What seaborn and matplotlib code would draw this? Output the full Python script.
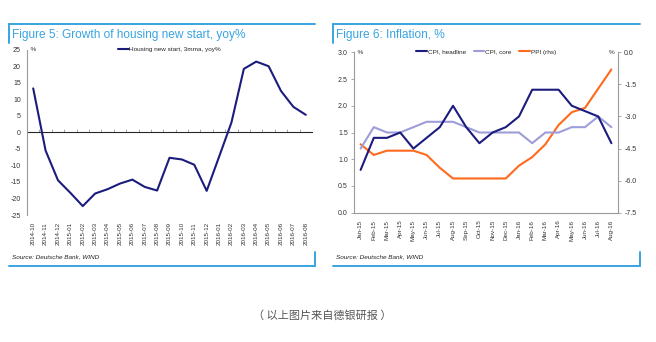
import numpy as np
import pandas as pd
import matplotlib
matplotlib.use("Agg")
import matplotlib.pyplot as plt
from matplotlib.lines import Line2D
import seaborn as sns

# ---- data -------------------------------------------------------------
housing_months = ["2014-10", "2014-11", "2014-12", "2015-01", "2015-02", "2015-03",
                  "2015-04", "2015-05", "2015-06", "2015-07", "2015-08", "2015-09",
                  "2015-10", "2015-11", "2015-12", "2016-01", "2016-02", "2016-03",
                  "2016-04", "2016-05", "2016-06", "2016-07", "2016-08"]
housing_yoy = [13.3, -5.5, -14.5, -18.3, -22.3, -18.5, -17.2, -15.5, -14.3, -16.5,
               -17.6, -7.7, -8.2, -9.8, -17.7, -7.4, 3.0, 19.2, 21.4, 20.0, 12.5,
               7.7, 5.3]

infl_months = ["Jan-15", "Feb-15", "Mar-15", "Apr-15", "May-15", "Jun-15", "Jul-15",
               "Aug-15", "Sep-15", "Oct-15", "Nov-15", "Dec-15", "Jan-16", "Feb-16",
               "Mar-16", "Apr-16", "May-16", "Jun-16", "Jul-16", "Aug-16"]
cpi_headline = [0.8, 1.4, 1.4, 1.5, 1.2, 1.4, 1.6, 2.0, 1.6, 1.3, 1.5, 1.6, 1.8, 2.3,
                2.3, 2.3, 2.0, 1.9, 1.8, 1.3]
cpi_core = [1.2, 1.6, 1.5, 1.5, 1.6, 1.7, 1.7, 1.7, 1.6, 1.5, 1.5, 1.5, 1.5, 1.3,
            1.5, 1.5, 1.6, 1.6, 1.8, 1.6]
ppi = [-4.3, -4.8, -4.6, -4.6, -4.6, -4.8, -5.4, -5.9, -5.9, -5.9, -5.9, -5.9, -5.3,
       -4.9, -4.3, -3.4, -2.8, -2.6, -1.7, -0.8]

left_yticks = [25, 20, 15, 10, 5, 0, -5, -10, -15, -20, -25]
right_yticks = [0.0, 0.5, 1.0, 1.5, 2.0, 2.5, 3.0]
rhs_yticks = [0.0, -1.5, -3.0, -4.5, -6.0, -7.5]

# ---- style ------------------------------------------------------------
sns.set_style("white")
plt.rcParams["font.family"] = ["Liberation Sans", "DejaVu Sans"]

NAVY = "#1c1c7e"
LAVENDER = "#9d9ddb"
ORANGE = "#ff6a1c"
FRAME = "#38a4e0"
AXIS = "#9a9a9a"
TXT = "#333333"
W, H = 656, 342

fig = plt.figure(figsize=(W / 100, H / 100), dpi=100)


def px_axes(x0, y0, x1, y1):
    return fig.add_axes([x0 / W, 1 - y1 / H, (x1 - x0) / W, (y1 - y0) / H])


def frame(x0, x1, title):
    # blue title bar and footer bracket around a panel
    kw = dict(color=FRAME, lw=1.4, transform=fig.transFigure, clip_on=False)
    fig.add_artist(Line2D([x0 / W, x1 / W], [1 - 24 / H, 1 - 24 / H], **kw))
    fig.add_artist(Line2D([x0 / W, x0 / W], [1 - 24 / H, 1 - 43 / H], **kw))
    fig.add_artist(Line2D([x0 / W, x1 / W], [1 - 266 / H, 1 - 266 / H], **kw))
    fig.add_artist(Line2D([x1 / W, x1 / W], [1 - 252 / H, 1 - 266 / H], **kw))
    fig.text((x0 + 3) / W, 1 - 35 / H, title, color=FRAME, fontsize=8.6,
             va="center", ha="left")
    fig.text((x0 + 3) / W, 1 - 256.5 / H, "Source: Deutsche Bank, WIND",
             fontsize=4.6, style="italic", color="#222222", va="center", ha="left")


def style_axis(ax, spines):
    for s in ["left", "right", "top", "bottom"]:
        ax.spines[s].set_visible(s in spines)
        ax.spines[s].set_color(AXIS)
        ax.spines[s].set_linewidth(0.8)
    ax.tick_params(axis="y", labelsize=5, colors=TXT, length=2.5, width=0.6,
                   color=AXIS, pad=2)
    ax.set_xlabel("")
    ax.set_ylabel("")


# ---- Figure 5 ---------------------------------------------------------
frame(9, 315, "Figure 5: Growth of housing new start, yoy%")
ax1 = px_axes(27, 49.7, 312, 215)
df1 = pd.DataFrame({"pos": np.arange(len(housing_months)), "val": housing_yoy})
sns.lineplot(data=df1, x="pos", y="val", ax=ax1, color=NAVY, lw=1.5,
             label="Housing new start, 3mma, yoy%")
ax1.set_xlim(-0.5, len(housing_months) - 0.5)
ax1.set_ylim(-25, 25)
ax1.set_yticks(left_yticks)
ax1.set_yticklabels([str(v) for v in left_yticks])
style_axis(ax1, ["left"])
ax1.set_xticks(np.arange(len(housing_months)))
ax1.set_xticklabels(housing_months, rotation=90, fontsize=4.5, color=TXT)
ax1.tick_params(axis="x", length=0, pad=5)
# category axis crossing at zero
zero_ax = ax1.secondary_xaxis(0.5)
zero_ax.spines["bottom"].set_color(AXIS)
zero_ax.spines["bottom"].set_linewidth(0.8)
zero_ax.set_xticks(np.arange(0.5, len(housing_months) - 0.5, 1))
zero_ax.set_xticklabels([])
zero_ax.tick_params(axis="x", direction="out", length=2.2, width=0.6, color=AXIS)
ax1.text(-0.5, 25, "  %", fontsize=4.6, color=TXT, ha="left", va="center")
ax1.legend(loc="upper center", bbox_to_anchor=(0.5, 1.035), frameon=False,
           fontsize=4.6, handlelength=1.7, handletextpad=0.1, borderaxespad=0)

# ---- Figure 6 ---------------------------------------------------------
frame(333, 640, "Figure 6: Inflation, %")
ax2 = px_axes(354, 52.3, 618, 212.7)
pos = np.arange(len(infl_months))
df2 = pd.DataFrame({"pos": pos, "headline": cpi_headline, "core": cpi_core,
                    "ppi": ppi})
sns.lineplot(data=df2, x="pos", y="core", ax=ax2, color=LAVENDER, lw=1.5)
sns.lineplot(data=df2, x="pos", y="headline", ax=ax2, color=NAVY, lw=1.5)
ax2.set_xlim(-0.5, len(infl_months) - 0.5)
ax2.set_ylim(0, 3.0)
ax2.set_yticks(right_yticks)
ax2.set_yticklabels([f"{v:.1f}" for v in right_yticks])
style_axis(ax2, ["left", "bottom"])
ax2.set_xticks(pos)
ax2.set_xticklabels(infl_months, rotation=90, fontsize=4.5, color=TXT)
ax2.set_xticks(np.arange(0.5, len(infl_months) - 0.5, 1), minor=True)
ax2.tick_params(axis="x", which="major", length=0, pad=5)
ax2.tick_params(axis="x", which="minor", length=2.2, width=0.6, color=AXIS)

ax3 = ax2.twinx()
sns.lineplot(data=df2, x="pos", y="ppi", ax=ax3, color=ORANGE, lw=1.5)
ax3.set_ylim(-7.5, 0)
ax3.set_yticks(rhs_yticks)
ax3.set_yticklabels([f"{v:.1f}" for v in rhs_yticks])
style_axis(ax3, ["right"])
ax3.tick_params(axis="y", labelsize=5, colors=TXT, length=2.5, color=AXIS, pad=2)
ax2.set_zorder(ax3.get_zorder() + 1)
ax2.patch.set_visible(False)

ax2.text(-0.5, 3.0, "  %", fontsize=4.6, color=TXT, ha="left", va="center")
ax2.text(len(infl_months) - 0.5, 3.0, "%  ", fontsize=4.6, color=TXT,
         ha="right", va="center")
handles = [Line2D([], [], color=NAVY, lw=1.5), Line2D([], [], color=LAVENDER, lw=1.5),
           Line2D([], [], color=ORANGE, lw=1.5)]
ax2.legend(handles, ["CPI, headline", "CPI, core", "PPI (rhs)"], ncol=3,
           loc="upper center", bbox_to_anchor=(0.5, 1.035), frameon=False,
           fontsize=4.6, handlelength=1.7, handletextpad=0.1, columnspacing=1.2,
           borderaxespad=0)

# ---- footer -----------------------------------------------------------
fig.text(322 / W, 1 - 316 / H, "（ 以上图片来自德银研报 ）", fontsize=8,
         color="#555555", ha="center", va="center",
         family=["Noto Sans CJK SC", "DejaVu Sans"])

fig.savefig("out.png", dpi=100)
